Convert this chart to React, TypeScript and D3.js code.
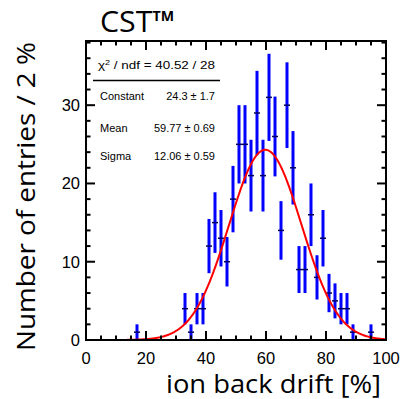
import React from 'react';
import * as d3 from 'd3';

// ---- data (bins of 2 %, only non-empty bins listed) ----
const binCenters = [17, 33, 35, 37, 39, 41, 43, 45, 47, 49, 51, 53, 55, 57, 59, 61, 63, 65, 67, 69, 71, 73, 75, 77, 79, 81, 83, 85, 87, 89, 95];
const counts = [1, 4, 1, 4, 4, 12, 15, 13, 10, 18, 25, 25, 21, 29, 21, 31, 26, 14, 30, 22, 9, 9, 16, 8, 13, 6, 5, 4, 4, 1, 1];
const binWidth = 2;

const fitConstant = 24.3;
const fitMean = 59.77;
const fitSigma = 12.06;

const statLabels = ['Constant', 'Mean', 'Sigma'];
const statValues = ['24.3 \u00b1 1.7', '59.77 \u00b1 0.69', '12.06 \u00b1 0.59'];
const chi2Text = ' / ndf = 40.52 / 28';

const xTicks = [0, 20, 40, 60, 80, 100];
const yTicks = [0, 10, 20, 30];
const xDomain = [0, 100];
const yDomain = [0, 38.2];

const W = 406;
const H = 399;
const left = 86, right = 386, top = 41, bottom = 340;

const titleFont = "'Open Sans', 'DejaVu Sans', sans-serif";
const labelFont = "'Liberation Sans', Arial, sans-serif";

export default function App() {
  const x = d3.scaleLinear().domain(xDomain).range([left, right]);
  const y = d3.scaleLinear().domain(yDomain).range([bottom, top]);

  const gauss = (v: number) => fitConstant * Math.exp(-0.5 * ((v - fitMean) / fitSigma) ** 2);
  const curvePts = d3.range(xDomain[0], xDomain[1] + 0.001, 0.25).map((v) => [v, gauss(v)] as [number, number]);
  const line = d3.line<[number, number]>().x((d) => x(d[0])).y((d) => y(d[1]));

  const xMinor = d3.range(0, 100.001, 5);
  const yMinor = d3.range(0, 38.01, 2);
  const statY = [100, 131.5, 159.5];

  return (
    <svg width={W} height={H} style={{ position: 'absolute', left: 0, top: 0, background: '#fff' }}>
      <rect x={0} y={0} width={W} height={H} fill="#fff" />
      {/* title */}
      <text x={100} y={32} fontFamily={titleFont} fontSize={30} fill="#000" textLength={74} lengthAdjust="spacingAndGlyphs">
        CST<tspan fontSize={14} fontWeight="bold" dy={-11}>TM</tspan>
      </text>

      {/* error bars */}
      {binCenters.map((c, i) => {
        const n = counts[i];
        const e = Math.sqrt(n);
        return (
          <g key={i}>
            <line x1={x(c)} x2={x(c)} y1={y(Math.max(0, n - e))} y2={y(n + e)} stroke="#0000ff" strokeWidth={3} />
            <line x1={x(c - binWidth / 2)} x2={x(c + binWidth / 2)} y1={y(n)} y2={y(n)} stroke="#000060" strokeWidth={1.5} />
          </g>
        );
      })}

      {/* fit */}
      <path d={line(curvePts) || ''} fill="none" stroke="#ff0000" strokeWidth={2} />

      {/* frame */}
      <rect x={left} y={top} width={right - left} height={bottom - top} fill="none" stroke="#000" strokeWidth={2} />

      {/* ticks */}
      {xMinor.map((v) => {
        const major = v % 20 === 0;
        const len = major ? 9 : 4.5;
        return (
          <g key={'x' + v}>
            <line x1={x(v)} x2={x(v)} y1={bottom} y2={bottom - len} stroke="#000" strokeWidth={2} />
            <line x1={x(v)} x2={x(v)} y1={top} y2={top + len} stroke="#000" strokeWidth={2} />
          </g>
        );
      })}
      {yMinor.map((v) => {
        const major = v % 10 === 0;
        const len = major ? 9 : 4.5;
        return (
          <g key={'y' + v}>
            <line x1={left} x2={left + len} y1={y(v)} y2={y(v)} stroke="#000" strokeWidth={2} />
            <line x1={right} x2={right - len} y1={y(v)} y2={y(v)} stroke="#000" strokeWidth={2} />
          </g>
        );
      })}

      {/* tick labels */}
      {xTicks.map((v) => (
        <text key={'xl' + v} x={x(v)} y={364} textAnchor="middle" fontFamily={labelFont} fontSize={16.5} fill="#000">
          {v}
        </text>
      ))}
      {yTicks.map((v) => (
        <text key={'yl' + v} x={80} y={y(v) + 6} textAnchor="end" fontFamily={labelFont} fontSize={16.5} fill="#000">
          {v}
        </text>
      ))}

      {/* axis titles */}
      <text x={166} y={393} fontFamily={titleFont} fontSize={25.5} fill="#000" textLength={215} lengthAdjust="spacingAndGlyphs">
        ion back drift [%]
      </text>
      <text transform="translate(35,351) rotate(-90)" fontFamily={titleFont} fontSize={26} fill="#000" textLength={309} lengthAdjust="spacingAndGlyphs">
        Number of entries / 2 %
      </text>

      {/* stats box */}
      <text x={98} y={69} fontFamily={labelFont} fontSize={10.5} fill="#000" textLength={117} lengthAdjust="spacingAndGlyphs">
        {'\u03c7'}<tspan fontSize={7} dy={-4}>2</tspan><tspan dy={4}>{chi2Text}</tspan>
      </text>
      <line x1={93} x2={220} y1={80.5} y2={80.5} stroke="#000" strokeWidth={1.5} />
      {statLabels.map((s, i) => (
        <g key={s}>
          <text x={100} y={statY[i]} fontFamily={labelFont} fontSize={11} fill="#000">
            {s}
          </text>
          <text x={215} y={statY[i]} textAnchor="end" fontFamily={labelFont} fontSize={11} fill="#000">
            {statValues[i]}
          </text>
        </g>
      ))}
    </svg>
  );
}
